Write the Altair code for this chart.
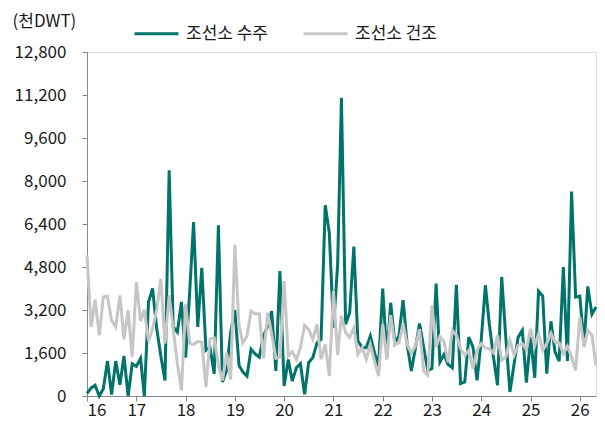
import altair as alt
import pandas as pd

S1 = "조선소 수주"
S2 = "조선소 건조"
GREEN = "#00736A"
GRAY = "#C6C6C6"
FONT = "Noto Sans CJK KR"

# monthly, Jan 2016 - May 2026
months = [f"{2016 + i // 12}-{i % 12 + 1:02d}-01T00:00:00" for i in range(125)]

orders = [
    100, 300, 400, 0, 270, 1300, 50, 1300, 420, 1490, 0, 1200,
    1100, 1400, 0, 3500, 4000, 2500, 1500, 580, 8400, 2570, 2380, 3500,
    1430, 3950, 6470, 2570, 4770, 1700, 1800, 830, 6350, 520, 950, 2380,
    3200, 1130, 900, 740, 1740, 1560, 1450, 2230, 2600, 3160, 930, 4650,
    370, 1360, 560, 1050, 1200, 60, 1240, 1430, 1980, 2100, 7100, 6080,
    2540, 4900, 11100, 2670, 3100, 5560, 2050, 1800, 1800, 2230, 1610, 1120,
    4000, 1430, 3470, 1980, 2230, 3570, 1920, 930, 1800, 2700, 1800, 950,
    1020, 4180, 1260, 1550, 1170, 1050, 4140, 460, 520, 2190, 1820, 580,
    2070, 4120, 2690, 1450, 400, 4430, 2190, 150, 1200, 2190, 2440, 500,
    2190, 680, 3900, 3720, 830, 2780, 1640, 1300, 4800, 1300, 7610, 3680,
    3720, 1880, 4080, 3040, 3310,
]

deliveries = [
    5230, 2570, 3580, 2260, 3680, 3710, 2810, 2570, 3740, 2110, 3190, 1450,
    4240, 2790, 3210, 2050, 2500, 3210, 4360, 1950, 3740, 2500, 1200, 210,
    3410, 1950, 1920, 2030, 2000, 335, 2130, 2160, 1140, 580, 1600, 610,
    5630, 2600, 1980, 2230, 3160, 3050, 3060, 1400, 3100, 2300, 1400, 1450,
    4280, 1490, 1650, 1360, 1800, 2630, 2480, 2110, 2670, 1360, 1920, 740,
    3900, 1530, 2980, 2360, 2170, 2540, 1550, 1800, 1360, 1920, 1300, 740,
    2670, 1360, 3010, 1920, 1980, 2700, 1920, 1600, 1860, 2490, 930, 770,
    3370, 1820, 2220, 2010, 1260, 2440, 2260, 1760, 1510, 1700, 1020, 1700,
    1950, 1790, 1760, 1610, 2260, 1330, 1450, 2070, 1510, 1880, 1950, 1720,
    2500, 1880, 2320, 1700, 1950, 2340, 2010, 1980, 1570, 1850, 1450, 950,
    2940, 1820, 2440, 2260, 1120,
]

y_ticks = [0, 1600, 3200, 4800, 6400, 8000, 9600, 11200, 12800]

df = pd.DataFrame({
    "month": months * 2,
    "value": orders + deliveries,
    "series": [S1] * len(orders) + [S2] * len(deliveries),
})

color = alt.Color(
    "series:N",
    scale=alt.Scale(domain=[S1, S2], range=[GREEN, GRAY]),
    legend=alt.Legend(
        title=None, orient="none", legendX=46, legendY=-42,
        direction="horizontal", symbolType="stroke", symbolSize=1936,
        symbolStrokeWidth=3, labelFontSize=17, labelFont=FONT,
        labelColor="#1a1a1a", labelOffset=6, columnPadding=28,
    ),
)

base = alt.Chart(df).encode(
    x=alt.X(
        "month:T", title="",
        scale=alt.Scale(domain=[alt.DateTime(year=2016, month=1, date=1),
                                alt.DateTime(year=2026, month=5, date=1)]),
        axis=alt.Axis(format="%y", tickCount="year", grid=False,
                      domainColor="#888888", tickColor="#888888", tickSize=5,
                      labelFontSize=17, labelFont=FONT, labelColor="#1a1a1a",
                      labelPadding=1),
    ),
    y=alt.Y(
        "value:Q", title="(천DWT)",
        scale=alt.Scale(domain=[0, 12800], nice=False),
        axis=alt.Axis(values=y_ticks, format=",.0f", grid=False,
                      domainColor="#888888", tickColor="#888888", tickSize=5,
                      labelFontSize=17, labelFont=FONT, labelColor="#1a1a1a",
                      labelPadding=16, titleAngle=0, titleAlign="left",
                      titleBaseline="middle", titleX=-75, titleY=-31,
                      titleFontSize=17, titleFontWeight="normal",
                      titleFont=FONT, titleColor="#1a1a1a"),
    ),
    color=color,
)

green_layer = base.transform_filter(alt.datum.series == S1).mark_line(strokeWidth=3)
gray_layer = base.transform_filter(alt.datum.series == S2).mark_line(strokeWidth=3)

chart = alt.layer(green_layer, gray_layer).properties(
    width=509, height=344,
    autosize=alt.AutoSizeParams(type="none"),
    padding={"left": 79, "top": 44, "right": 1, "bottom": 23},
).configure_view(stroke=None).configure(font=FONT)

chart.save("out.html", embed_options={"renderer": "svg", "actions": False})
